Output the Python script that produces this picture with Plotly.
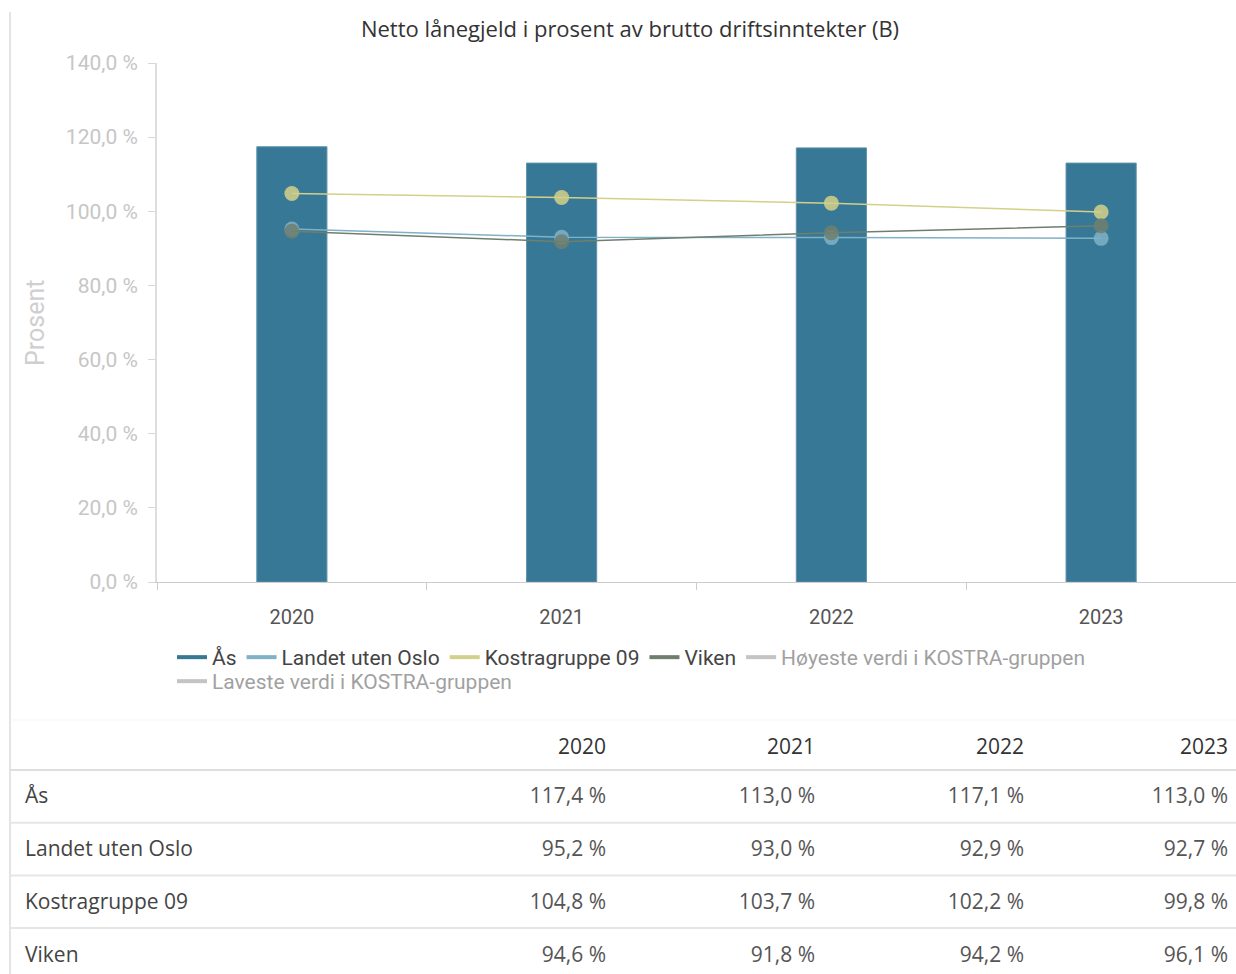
import plotly.graph_objects as go

YEARS = ["2020", "2021", "2022", "2023"]
AAS = [117.4, 113.0, 117.1, 113.0]
LANDET = [95.2, 93.0, 92.9, 92.7]
KOSTRA = [104.8, 103.7, 102.2, 99.8]
VIKEN = [94.6, 91.8, 94.2, 96.1]
Y_TICKS = [0, 20, 40, 60, 80, 100, 120, 140]

TITLE = "Netto lånegjeld i prosent av brutto driftsinntekter (B)"
ROW_NAMES = ["Ås", "Landet uten Oslo", "Kostragruppe 09", "Viken"]

W, H = 1236, 974
BAR_COLOR = "#367896"
LANDET_COLOR = "#7fb1c7"
KOSTRA_COLOR = "#d3d08a"
VIKEN_COLOR = "#6f7f6e"
HIDDEN_COLOR = "#8a8a8a"


def px_y(py):
    return 1 - py / H


def px_x(px):
    return px / W


def fmt(v):
    return f"{v:.1f} %".replace(".", ",")


fig = go.Figure()

fig.add_trace(
    go.Bar(
        x=YEARS,
        y=AAS,
        name="Ås",
        legendgroup="aas",
        showlegend=False,
        width=0.26,
        marker=dict(color=BAR_COLOR, line=dict(color="#5f93ab", width=1)),
    )
)

for name, values, color, group in [
    ("Landet uten Oslo", LANDET, LANDET_COLOR, "landet"),
    ("Kostragruppe 09", KOSTRA, KOSTRA_COLOR, "kostra"),
    ("Viken", VIKEN, VIKEN_COLOR, "viken"),
]:
    fig.add_trace(
        go.Scatter(
            x=YEARS,
            y=values,
            mode="lines+markers",
            name=name,
            legendgroup=group,
            showlegend=False,
            line=dict(color=color, width=1.5),
            marker=dict(color=color, size=15, opacity=0.85),
        )
    )

# legend entries (line symbols like the original)
legend_items = [
    ("Ås", BAR_COLOR, "aas", True, "legend"),
    ("Landet uten Oslo", LANDET_COLOR, "landet", True, "legend"),
    ("Kostragruppe 09", KOSTRA_COLOR, "kostra", True, "legend"),
    ("Viken", VIKEN_COLOR, "viken", True, "legend"),
    ("Høyeste verdi i KOSTRA-gruppen", HIDDEN_COLOR, "hoy", "legendonly", "legend"),
    ("Laveste verdi i KOSTRA-gruppen", HIDDEN_COLOR, "lav", "legendonly", "legend2"),
]
for name, color, group, vis, leg in legend_items:
    fig.add_trace(
        go.Scatter(
            x=[None],
            y=[None],
            mode="lines",
            name=name,
            legendgroup=group,
            visible=vis,
            legend=leg,
            line=dict(color=color, width=4),
        )
    )

# table
header_vals = [""] + YEARS
series = [AAS, LANDET, KOSTRA, VIKEN]
cell_cols = [ROW_NAMES] + [[fmt(s[i]) for s in series] for i in range(len(YEARS))]
ROW_H = 53
HEADER_H = 49
TABLE_TOP = 730
fig.add_trace(
    go.Table(
        domain=dict(x=[px_x(17), 1.0], y=[0.0, px_y(TABLE_TOP)]),
        columnwidth=[388, 209, 209, 209, 204],
        header=dict(
            values=header_vals,
            align=["left", "right", "right", "right", "right"],
            height=HEADER_H,
            fill_color="white",
            line=dict(color="white", width=0),
            font=dict(family="Open Sans", size=21, color="#333333"),
        ),
        cells=dict(
            values=cell_cols,
            align=["left", "right", "right", "right", "right"],
            height=ROW_H,
            fill_color="white",
            line=dict(color="white", width=0),
            font=dict(family="Open Sans", size=21, color=["#444444", "#555555"]),
        ),
    )
)

shapes = [
    dict(type="line", xref="paper", yref="paper", x0=px_x(10), x1=px_x(10),
         y0=0, y1=px_y(12), line=dict(color="#e4e4e4", width=2)),
    dict(type="line", xref="paper", yref="paper", x0=px_x(10), x1=1,
         y0=px_y(720), y1=px_y(720), line=dict(color="#f5f5f5", width=1)),
]
for k in range(4):
    yline = 770 + k * 52.7
    shapes.append(
        dict(type="line", xref="paper", yref="paper", x0=px_x(10), x1=1,
             y0=px_y(yline), y1=px_y(yline),
             line=dict(color="#dedede" if k == 0 else "#e6e6e6", width=2))
    )

legend_style = dict(
    orientation="h",
    x=px_x(172),
    xanchor="left",
    yanchor="top",
    bgcolor="rgba(0,0,0,0)",
    font=dict(family="Roboto", size=21, color="#444444"),
    itemclick=False,
    itemdoubleclick=False,
)

fig.update_layout(
    width=W,
    height=H,
    margin=dict(l=0, r=0, t=0, b=0, autoexpand=False),
    paper_bgcolor="white",
    plot_bgcolor="white",
    title=dict(
        text=TITLE,
        x=px_x(630),
        xanchor="center",
        y=px_y(29),
        yanchor="middle",
        font=dict(family="Open Sans", size=22, color="#333333"),
    ),
    xaxis=dict(
        domain=[px_x(157), 1.0],
        type="category",
        automargin=False,
        tickson="boundaries",
        ticks="outside",
        ticklen=7,
        tickcolor="#cccccc",
        showline=True,
        linecolor="#cccccc",
        linewidth=1,
        showgrid=False,
        tickfont=dict(family="Roboto", size=20, color="#555555"),
        ticklabelstandoff=17,
    ),
    yaxis=dict(
        domain=[px_y(582), px_y(63)],
        range=[0, 140],
        automargin=False,
        tickvals=Y_TICKS,
        ticktext=[fmt(v) for v in Y_TICKS],
        ticks="outside",
        ticklen=7,
        tickcolor="#d6d6d6",
        showline=True,
        linecolor="#dddddd",
        linewidth=2,
        showgrid=False,
        zeroline=False,
        tickfont=dict(family="Roboto", size=21, color="#c6c6c6"),
        ticklabelstandoff=6,
    ),
    legend=dict(legend_style, y=px_y(637)),
    legend2=dict(legend_style, y=px_y(661)),
    annotations=[
        dict(
            text="Prosent",
            textangle=-90,
            xref="paper",
            yref="paper",
            x=px_x(35),
            y=px_y(323),
            xanchor="center",
            yanchor="middle",
            showarrow=False,
            font=dict(family="Roboto", size=25, color="#cfcfcf"),
        )
    ],
    shapes=shapes,
)

fig.write_html(
    "out.html",
    config={"displayModeBar": False},
    post_script="document.body.style.margin='0';",
)
